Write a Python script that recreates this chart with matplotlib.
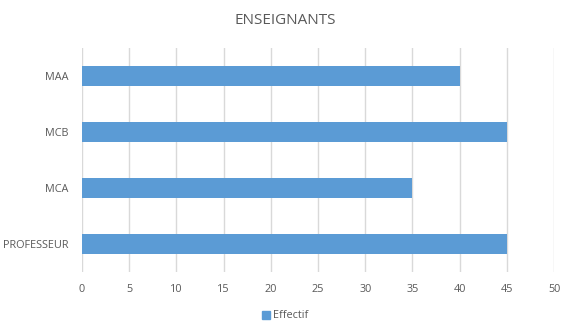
import matplotlib
matplotlib.use('Agg')
import matplotlib.pyplot as plt
from matplotlib.patches import Patch

categories = ['PROFESSEUR', 'MCA', 'MCB', 'MAA']
effectif = [45, 35, 45, 40]
xticks = [0, 5, 10, 15, 20, 25, 30, 35, 40, 45, 50]

plt.rcParams['font.family'] = ['Open Sans', 'DejaVu Sans']
grey = '#595959'
blue = '#5B9BD5'

fig = plt.figure(figsize=(5.71, 3.35), dpi=100)
ax = fig.add_axes([82 / 571, 63 / 335, 472 / 571, 224 / 335])

ax.barh(range(len(categories)), effectif, height=0.36, color=blue, zorder=3)
ax.set_xlim(0, 50)
ax.set_ylim(-0.5, len(categories) - 0.5)
ax.set_xticks(xticks)
ax.set_yticks(range(len(categories)))
ax.set_yticklabels(categories)
ax.grid(axis='x', color='#D9D9D9', linewidth=1, zorder=0)
for s in ax.spines.values():
    s.set_visible(False)
ax.tick_params(length=0, labelsize=7.8, colors=grey, pad=9)
ax.tick_params(axis='y', pad=10)

fig.text(0.5, 1 - 21 / 335, 'ENSEIGNANTS', ha='center', va='center', fontsize=11, color=grey)
fig.legend(handles=[Patch(color=blue, label='Effectif')], loc='center',
           bbox_to_anchor=(0.5, 1 - 316 / 335), frameon=False, fontsize=7.8,
           handlelength=0.7, handleheight=0.7, handletextpad=0.3, labelcolor=grey)

fig.savefig('out.png', dpi=100)
